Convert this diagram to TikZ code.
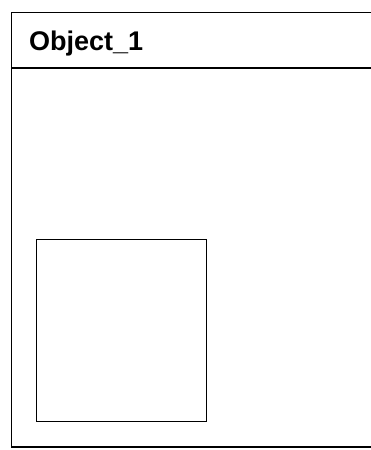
\documentclass[tikz,border=0pt]{standalone}
\usepackage{fontspec}
\setmainfont{Liberation Sans}
\begin{document}
\begin{tikzpicture}[x=1pt,y=-1pt,
  frameline/.style={line width=1.3pt, line join=miter},
  titletext/.style={font=\fontsize{27}{30}\selectfont\bfseries, anchor=base west, inner sep=0pt}]
\useasboundingbox (0,0) rectangle (370,450);
\coordinate (tr) at (371,12.5);
\coordinate (tl) at (11.5,12.5);
\coordinate (bl) at (11.5,447);
\coordinate (br) at (371,447);
\coordinate (hl) at (11.5,68);
\coordinate (hr) at (371,68);
\draw[frameline] (tr) -- (tl) -- (bl) -- (br);
\draw[frameline] (hl) -- (hr);
\node[titletext] (title) at (29,50.5) {Object\_1};
\node[draw, frameline, minimum width=169.5pt, minimum height=182pt, inner sep=0pt, anchor=north west] (box) at (36,239) {};
\end{tikzpicture}
\end{document}
